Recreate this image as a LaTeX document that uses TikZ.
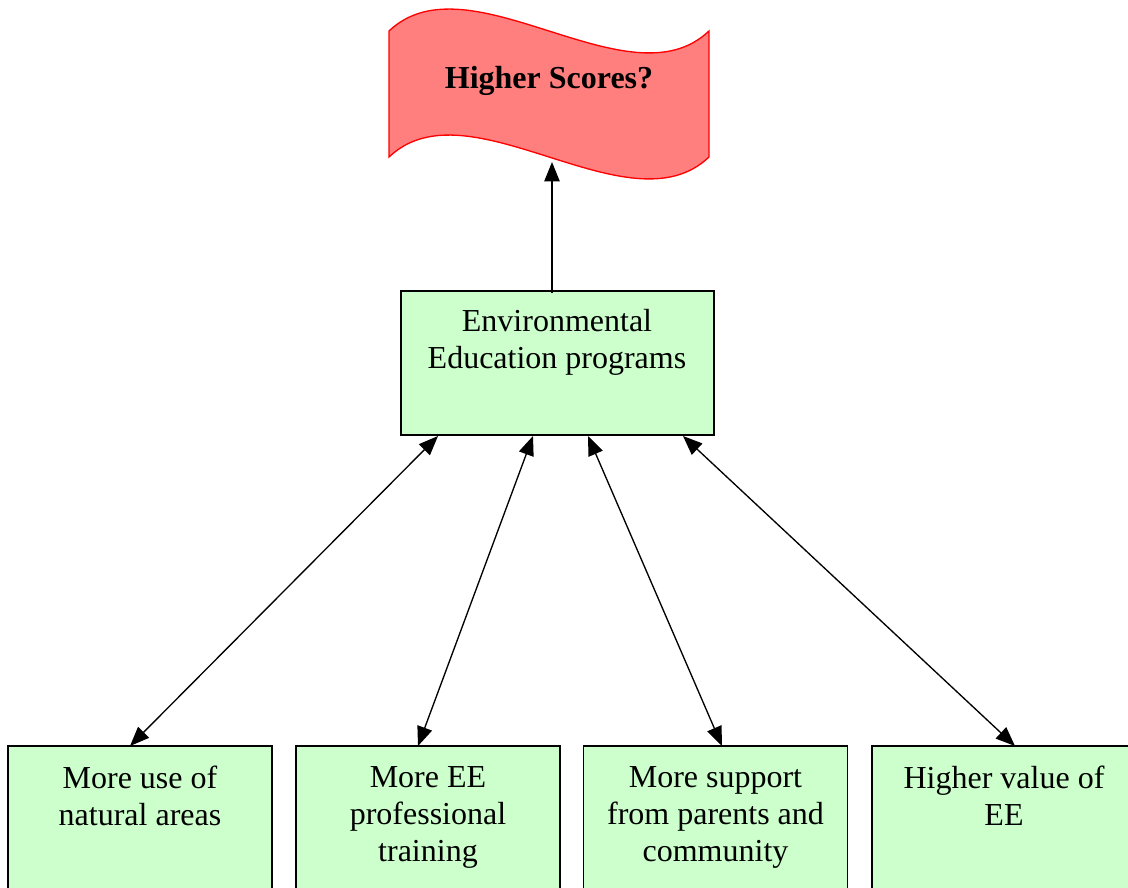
\documentclass[tikz,border=0pt]{standalone}
\usepackage{fontspec}
\setmainfont{Liberation Serif}
\usetikzlibrary{arrows.meta}
\definecolor{boxgreen}{HTML}{CCFFCC}
\definecolor{flagfill}{HTML}{FF7F7F}
\tikzset{
  box/.style={draw=black, line width=1pt, fill=boxgreen, rectangle, inner sep=0pt},
  lbl/.style={align=center, font=\fontsize{24}{27.75}\selectfont, inner sep=0pt},
  conn/.style={line width=1pt, -{Triangle[length=14.5pt,width=11.5pt]}},
  dbl/.style={line width=1pt, {Triangle[length=14.5pt,width=11.5pt]}-{Triangle[length=14.5pt,width=11.5pt]}}
}
\begin{document}
\begin{tikzpicture}[x=0.75pt,y=-0.75pt]
\clip (0,0) rectangle (1128,888);
% flag
\draw[red, line width=1pt, fill=flagfill]
  (389,31) .. controls (469,-45) and (629,107) .. (709,31)
  -- (709,157) .. controls (629,233) and (469,81) .. (389,157) -- cycle;
\node[lbl, font=\fontsize{24}{27.75}\selectfont\bfseries] (flag) at (549,81) {Higher Scores?};
\coordinate (flagb) at (552,162);
% EE box
\node[box, minimum width=234.75pt, minimum height=108pt] (ee) at (557.5,363) {};
\node[lbl] (eet) at (557,342) {Environmental\\Education programs};
% bottom boxes
\node[box, minimum width=198pt, minimum height=150pt] (b1) at (140,846) {};
\node[box, minimum width=198pt, minimum height=150pt] (b2) at (428,846) {};
\node[box, minimum width=198pt, minimum height=150pt] (b3) at (715.5,846) {};
\node[box, minimum width=198pt, minimum height=150pt] (b4) at (1004,846) {};
\node[lbl] (t1) at (140,796) {More use of\\natural areas};
\node[lbl] (t2) at (428,817) {More EE\\professional\\training};
\node[lbl] (t3) at (715.5,817) {More support\\from parents and\\community};
\node[lbl] (t4) at (1004,796) {Higher value of\\EE};
% connector end points
\coordinate (eetop) at (552,293);
\coordinate (e1) at (438,436);
\coordinate (e2) at (533,436);
\coordinate (e3) at (588,436);
\coordinate (e4) at (683,436);
\coordinate (p1) at (130,746);
\coordinate (p2) at (418,746);
\coordinate (p3) at (722,746);
\coordinate (p4) at (1015,746);
\draw[conn] (eetop) -- (flagb);
\draw[dbl] (e1) -- (p1);
\draw[dbl] (e2) -- (p2);
\draw[dbl] (e3) -- (p3);
\draw[dbl] (e4) -- (p4);
\end{tikzpicture}
\end{document}
